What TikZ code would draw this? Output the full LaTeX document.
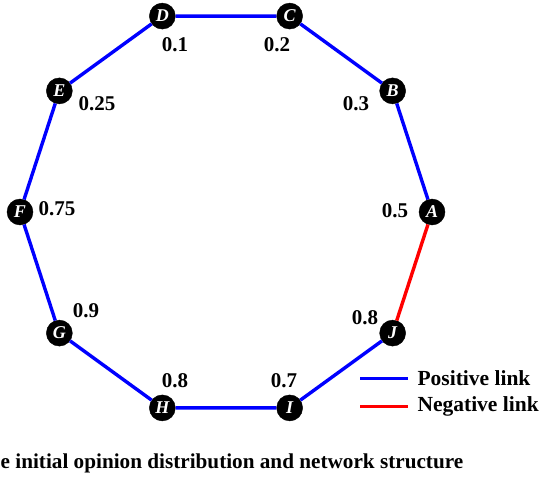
\documentclass[tikz,border=0pt]{standalone}
\usepackage{fontspec}
\setmainfont{Liberation Serif}
\usetikzlibrary{calc,positioning}
\tikzset{
    net diagram/.style = {x=1pt, y=1pt},
    agent/.style       = {circle, fill=black, draw=black, minimum size=26pt,
                          inner sep=0pt, text=white,
                          font=\fontsize{18}{18}\selectfont\bfseries\itshape},
    opinion/.style     = {font=\fontsize{21}{21}\selectfont\bfseries},
    legendtext/.style  = {font=\fontsize{21.5}{21.5}\selectfont\bfseries, anchor=west},
    captiontext/.style = {font=\fontsize{21.2}{21.2}\selectfont\bfseries, anchor=west,
                          inner xsep=0pt},
    poslink/.style     = {draw=blue, line width=3.4pt},
    neglink/.style     = {draw=red, line width=3.4pt}
}

\begin{document}
\begin{tikzpicture}[net diagram]
\useasboundingbox (0,0) rectangle (545,480);

% ================= Agents on the ring =================
\coordinate (ctr) at (226,268);
\node[agent] (A) at ($(ctr)+(0:206)$)   {A};
\node[agent] (B) at ($(ctr)+(36:206)$)  {B};
\node[agent] (C) at ($(ctr)+(72:206)$)  {C};
\node[agent] (D) at ($(ctr)+(108:206)$) {D};
\node[agent] (E) at ($(ctr)+(144:206)$) {E};
\node[agent] (F) at ($(ctr)+(180:206)$) {F};
\node[agent] (G) at ($(ctr)+(216:206)$) {G};
\node[agent] (H) at ($(ctr)+(252:206)$) {H};
\node[agent] (I) at ($(ctr)+(288:206)$) {I};
\node[agent] (J) at ($(ctr)+(324:206)$) {J};

% ================= Links =================
\draw[poslink] (A) -- (B) -- (C) -- (D) -- (E) -- (F) -- (G) -- (H) -- (I) -- (J);
\draw[neglink] (J) -- (A);

% ================= Initial opinions =================
\node[opinion] (oA) at (395,269) {0.5};
\node[opinion] (oB) at (356,376) {0.3};
\node[opinion] (oC) at (277,435) {0.2};
\node[opinion] (oD) at (175,435) {0.1};
\node[opinion] (oE) at (97,376)  {0.25};
\node[opinion] (oF) at (57,271)  {0.75};
\node[opinion] (oG) at (86,169)  {0.9};
\node[opinion] (oH) at (175,99)  {0.8};
\node[opinion] (oI) at (284,99)  {0.7};
\node[opinion] (oJ) at (365,162) {0.8};

% ================= Legend =================
\coordinate (p1) at (360,102);
\coordinate (p2) at (408,102);
\coordinate (n1) at (360,74);
\coordinate (n2) at (408,74);
\draw[poslink, line width=3pt] (p1) -- (p2);
\draw[neglink, line width=3pt] (n1) -- (n2);
\node[legendtext] (ptext) at (414,102) {Positive link};
\node[legendtext] (ntext) at (414,74)  {Negative link};

% ================= Caption =================
\node[captiontext] (cap) at (0.5,17)
    {e initial opinion distribution and network structure};

\end{tikzpicture}
\end{document}
